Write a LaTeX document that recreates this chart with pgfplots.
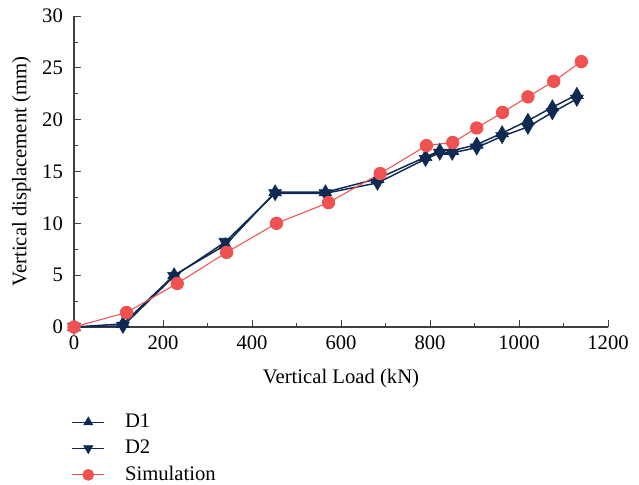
\documentclass[border=0pt]{standalone}
\usepackage{pgfplots}
\pgfplotsset{compat=1.18}
\usepackage{fontspec}
\setmainfont{Liberation Serif}
\definecolor{navy}{HTML}{0F2A52}
\definecolor{simred}{HTML}{F05252}
\begin{document}
\fontsize{15.5}{18}\selectfont
\begin{tikzpicture}
\useasboundingbox (-55.5pt,-118.5pt) rectangle (423.75pt,245.25pt);
\begin{axis}[
  at={(0,0)}, anchor=origin,
  scale only axis, width=400.5pt, height=233.25pt,
  xmin=0, xmax=1200, ymin=0, ymax=30,
  axis x line*=bottom, axis y line*=left,
  axis line style={line width=0.8pt, color=black!75},
  xtick={0,200,...,1200}, ytick={0,5,...,30},
  minor x tick num=1, minor y tick num=1,
  tick align=inside, tick style={color=black!75, line width=0.6pt},
  major tick length=5pt, minor tick length=3pt,
  /pgf/number format/assume math mode=true,
  /pgf/number format/1000 sep={},
  ticklabel style={font=\fontsize{15.5}{18}\selectfont},
  yticklabel style={xshift=-3pt},
  xticklabel style={yshift=-1pt},
  xlabel={Vertical Load (kN)}, ylabel={Vertical displacement (mm)},
  label style={font=\fontsize{15.5}{18}\selectfont},
  xlabel style={yshift=-4pt},
  ylabel style={yshift=-2pt},
  clip=false,
  legend style={at={(axis description cs:0,0)}, anchor=north west, xshift=-5pt, yshift=-61pt, draw=none, fill=none, font=\fontsize{15.5}{18}\selectfont, row sep=3pt, legend cell align=left,
    /tikz/every even column/.append style={column sep=0pt}},
  legend image code/.code={\draw[#1, mark repeat=2, mark phase=2, mark size=4pt] plot coordinates {(0cm,0cm) (0.42cm,0cm) (0.84cm,0cm)}; \path (1.3cm,0);},
]
\addplot[navy, line width=1.1pt, mark=triangle*, mark size=5.6pt, mark options={solid, fill=navy, line width=0.4pt}] coordinates {
(0,0) (110,0.3) (225,5.0) (340,7.9) (452,13.0) (565,13.0) (682,14.3) (790,16.4) (822,17.0) (850,17.0) (905,17.6) (962,18.7) (1020,19.9) (1075,21.2) (1130,22.4)};
\addlegendentry{D1}
\addplot[navy, line width=1.1pt, mark=triangle*, mark size=5.6pt, mark options={solid, fill=navy, rotate=180, line width=0.4pt}] coordinates {
(0,0) (110,0.1) (225,4.9) (340,8.2) (452,12.9) (565,12.9) (682,13.9) (790,16.2) (822,16.8) (850,16.8) (905,17.3) (962,18.4) (1020,19.3) (1075,20.7) (1130,22.0)};
\addlegendentry{D2}
\addplot[simred, line width=0.8pt, mark=*, mark size=4.6pt, mark options={solid, fill=simred, draw=simred}] coordinates {
(0,0) (118,1.4) (232,4.2) (343,7.2) (455,10.0) (572,12.0) (688,14.8) (792,17.5) (851,17.8) (905,19.2) (963,20.7) (1020,22.2) (1078,23.7) (1140,25.6)};
\addlegendentry{Simulation}
\end{axis}
\end{tikzpicture}
\end{document}
